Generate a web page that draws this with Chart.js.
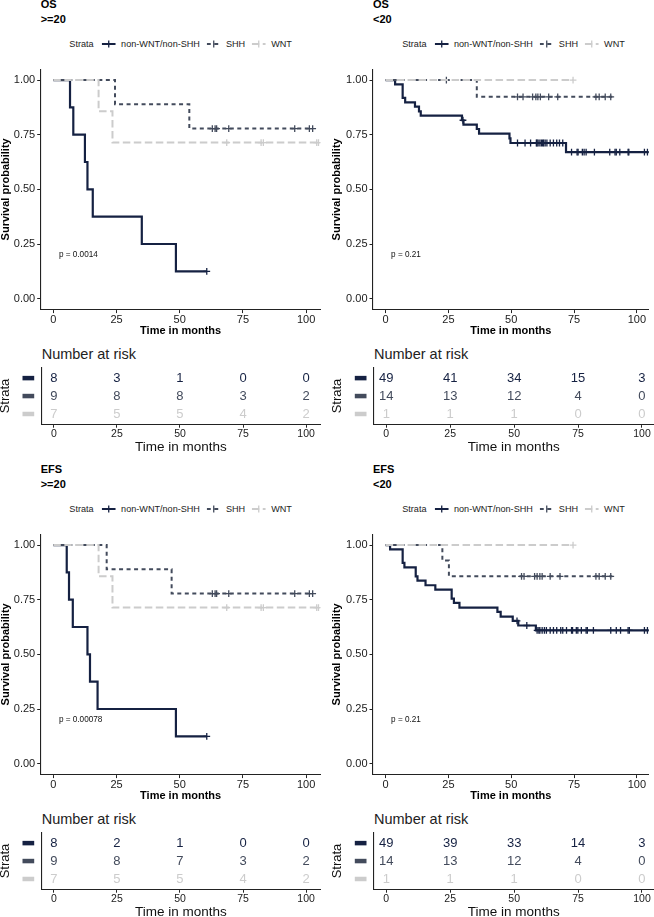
<!DOCTYPE html>
<html>
<head>
<meta charset="utf-8">
<script src="https://cdn.jsdelivr.net/npm/chart.js@4.4.1/dist/chart.umd.min.js"></script>
<style>
body { margin: 0; background: #fff; width: 654px; height: 917px; position: relative; overflow: hidden; font-family: "Liberation Sans", Arial, sans-serif; }
canvas { position: absolute; }
.ttl { position: absolute; font-weight: bold; font-size: 11px; line-height: 11px; color: #000; }
.leg { position: absolute; display: flex; align-items: center; font-size: 9.1px; line-height: 12px; height: 12px; color: #222; transform: translateX(-50%); white-space: nowrap; }
.nrisk { position: absolute; font-size: 14.5px; line-height: 15px; color: #222; }
</style>
</head>
<body>
<script>
const xTicks = [0, 25, 50, 75, 100];
const yTicks = [0, 0.25, 0.5, 0.75, 1];
const strata = ['non-WNT/non-SHH', 'SHH', 'WNT'];

// OS, >=20
const osHiNonTime = [0, 6.6, 7.9, 12.5, 13.5, 15.6, 35.0, 48.5, 60.7];
const osHiNonSurv = [1, 0.875, 0.75, 0.625, 0.5, 0.375, 0.25, 0.125, 0.125];
const osHiNonCens = [60.7];
const osHiShhTime = [0, 24.4, 53.8, 102.6];
const osHiShhSurv = [1, 0.889, 0.778, 0.778];
const osHiShhCens = [62.9, 64.0, 64.6, 69.4, 95.5, 101.3, 102.6];
const osHiWntTime = [0, 17.9, 23.4, 104.9];
const osHiWntSurv = [1, 0.857, 0.714, 0.714];
const osHiWntCens = [68.6, 82.2, 83.1, 104.2, 104.9];
const osHiRiskNon = [8, 3, 1, 0, 0];
const osHiRiskShh = [9, 8, 8, 3, 2];
const osHiRiskWnt = [7, 5, 5, 4, 2];

// OS, <20
const osLoNonTime = [0, 3.8, 6.8, 7.8, 11.7, 13.3, 14.0, 30.4, 31.0, 36.3, 37.2, 49.3, 49.7, 71.8, 106];
const osLoNonSurv = [1, 0.980, 0.918, 0.898, 0.878, 0.857, 0.837, 0.816, 0.796, 0.776, 0.755, 0.733, 0.712, 0.670, 0.670];
const osLoNonCens = [30.8, 52.5, 55.5, 57.7, 60.0, 60.3, 60.7, 61.4, 62.0, 62.5, 62.9, 63.5, 64.2, 65.5, 66.8, 68.1, 69.2, 70.5,
  74.0, 76.2, 76.6, 78.3, 79.0, 79.8, 83.1, 89.2, 91.3, 91.8, 93.2, 96.5, 96.8, 103.0, 104.2];
const osLoShhTime = [0, 36.3, 90.2];
const osLoShhSurv = [1, 0.923, 0.923];
const osLoShhCens = [24.2, 52.5, 54.7, 58.5, 59.8, 60.6, 61.6, 64.9, 68.5, 83.7, 85.0, 87.4, 89.6];
const osLoWntTime = [0, 74.6];
const osLoWntSurv = [1, 1];
const osLoWntCens = [74.6];
const osLoRiskNon = [49, 41, 34, 15, 3];
const osLoRiskShh = [14, 13, 12, 4, 0];
const osLoRiskWnt = [1, 1, 1, 0, 0];

// EFS, >=20
const efsHiNonTime = [0, 5.3, 6.2, 7.7, 13.5, 14.5, 17.5, 48.5, 60.7];
const efsHiNonSurv = [1, 0.875, 0.75, 0.625, 0.5, 0.375, 0.25, 0.125, 0.125];
const efsHiNonCens = [60.7];
const efsHiShhTime = [0, 21.1, 46.8, 102.6];
const efsHiShhSurv = [1, 0.889, 0.778, 0.778];
const efsHiShhCens = [62.9, 64.0, 64.6, 69.4, 95.5, 101.3, 102.6];
const efsHiWntTime = [0, 17.9, 23.4, 104.9];
const efsHiWntSurv = [1, 0.857, 0.714, 0.714];
const efsHiWntCens = [68.6, 82.2, 83.1, 104.2, 104.9];
const efsHiRiskNon = [8, 2, 1, 0, 0];
const efsHiRiskShh = [9, 8, 7, 3, 2];
const efsHiRiskWnt = [7, 5, 5, 4, 2];

// EFS, <20
const efsLoNonTime = [0, 1.8, 6.8, 7.5, 12.0, 12.7, 15.9, 19.8, 26.3, 27.2, 29.4, 44.5, 45.8, 50.6, 52.8, 59.8, 106];
const efsLoNonSurv = [1, 0.980, 0.918, 0.898, 0.857, 0.837, 0.816, 0.796, 0.755, 0.735, 0.714, 0.694, 0.673, 0.653, 0.632, 0.610, 0.610];
const efsLoNonCens = [52.3, 56.2, 60.3, 61.0, 61.4, 62.3, 63.2, 64.0, 65.5, 66.8, 68.1, 69.7, 70.5, 72.0, 74.0, 74.4,
  75.9, 76.5, 77.9, 79.8, 80.3, 82.7, 89.6, 91.8, 93.5, 96.5, 97.0, 103.0, 104.2];
const efsLoShhTime = [0, 22.6, 25.2, 90.2];
const efsLoShhSurv = [1, 0.929, 0.857, 0.857];
const efsLoShhCens = [54.1, 55.1, 59.3, 60.3, 61.4, 62.3, 65.5, 69.4, 83.7, 85.0, 87.4, 89.6];
const efsLoWntTime = [0, 74.6];
const efsLoWntSurv = [1, 1];
const efsLoWntCens = [74.6];
const efsLoRiskNon = [49, 39, 33, 14, 3];
const efsLoRiskShh = [14, 13, 12, 4, 0];
const efsLoRiskWnt = [1, 1, 1, 0, 0];

const pvalPos = [2.2, 0.2];

const family = '"Liberation Sans", Arial, sans-serif';
const colors = ['#152142', '#434b5c', '#cccccc'];
const widths = [2.2, 2, 2];
const dashes = [[], [4, 3.5], [7.5, 3.5]];
const axisColor = '#222';

const panels = [
  { title: 'OS', sub: '>=20', pval: 'p = 0.0014', col: 0, row: 0,
    curves: [[osHiNonTime, osHiNonSurv, osHiNonCens], [osHiShhTime, osHiShhSurv, osHiShhCens], [osHiWntTime, osHiWntSurv, osHiWntCens]],
    risk: [osHiRiskNon, osHiRiskShh, osHiRiskWnt] },
  { title: 'OS', sub: '<20', pval: 'p = 0.21', col: 1, row: 0,
    curves: [[osLoNonTime, osLoNonSurv, osLoNonCens], [osLoShhTime, osLoShhSurv, osLoShhCens], [osLoWntTime, osLoWntSurv, osLoWntCens]],
    risk: [osLoRiskNon, osLoRiskShh, osLoRiskWnt] },
  { title: 'EFS', sub: '>=20', pval: 'p = 0.00078', col: 0, row: 1,
    curves: [[efsHiNonTime, efsHiNonSurv, efsHiNonCens], [efsHiShhTime, efsHiShhSurv, efsHiShhCens], [efsHiWntTime, efsHiWntSurv, efsHiWntCens]],
    risk: [efsHiRiskNon, efsHiRiskShh, efsHiRiskWnt] },
  { title: 'EFS', sub: '<20', pval: 'p = 0.21', col: 1, row: 1,
    curves: [[efsLoNonTime, efsLoNonSurv, efsLoNonCens], [efsLoShhTime, efsLoShhSurv, efsLoShhCens], [efsLoWntTime, efsLoWntSurv, efsLoWntCens]],
    risk: [efsLoRiskNon, efsLoRiskShh, efsLoRiskWnt] }
];

// panel geometry (left / right column)
const cols = [
  { left: 0, plotL: 40.7, plotR: 320.5, xMax: 105.7, ytPad: 0, stPad: -1.5 },
  { left: 327, plotL: 373, plotR: 654, xMax: 104.7, ytPad: 4.5, stPad: 4 }
];
const rowDy = 465;

function survAt(time, surv, t) {
  let s = surv[0];
  for (let i = 0; i < time.length; i++) if (time[i] <= t) s = surv[i];
  return s;
}

function addCanvas(x, y, w, h) {
  const c = document.createElement('canvas');
  c.width = w; c.height = h;
  c.style.left = x + 'px'; c.style.top = y + 'px';
  document.body.appendChild(c);
  return c;
}

function addDiv(cls, x, y, html) {
  const d = document.createElement('div');
  d.className = cls;
  d.style.left = x + 'px'; d.style.top = y + 'px';
  d.innerHTML = html;
  document.body.appendChild(d);
  return d;
}

function legendHtml() {
  let h = '<span style="margin-right:8px">Strata</span>';
  strata.forEach((name, i) => {
    h += `<svg width="14" height="10" style="margin-right:5.5px">` +
      `<line x1="0" y1="5" x2="14" y2="5" stroke="${colors[i]}" stroke-width="${widths[i]}" stroke-dasharray="${dashes[i].join(' ')}"/>` +
      `<line x1="7" y1="1.5" x2="7" y2="8.5" stroke="${colors[i]}" stroke-width="1.3"/></svg>` +
      `<span style="margin-right:${i < 2 ? 6.5 : 0}px">${name}</span>`;
  });
  return h;
}

const pvalPlugin = {
  id: 'pval',
  afterDatasetsDraw(chart, args, opts) {
    const ctx = chart.ctx;
    ctx.save();
    ctx.font = '8.2px ' + family;
    ctx.fillStyle = '#111';
    ctx.textAlign = 'left';
    ctx.textBaseline = 'middle';
    ctx.fillText(opts.text, chart.scales.x.getPixelForValue(pvalPos[0]), chart.scales.y.getPixelForValue(pvalPos[1]));
    ctx.restore();
  }
};

const riskPlugin = {
  id: 'riskText',
  afterDatasetsDraw(chart) {
    const ctx = chart.ctx;
    ctx.save();
    ctx.font = '13px ' + family;
    ctx.textAlign = 'center';
    ctx.textBaseline = 'middle';
    chart.data.datasets.forEach((ds, i) => {
      const meta = chart.getDatasetMeta(i);
      ctx.fillStyle = ds.textColor;
      meta.data.forEach((pt, j) => ctx.fillText(String(ds.counts[j]), pt.x, pt.y));
      // strata key next to the axis
      const y = chart.scales.y.getPixelForValue(ds.data[0].y);
      ctx.fillRect(chart.chartArea.left - 18.7, y - 2.2, 11.7, 4.5);
    });
    ctx.restore();
  }
};

function kmChart(p) {
  const g = cols[p.col];
  const top = 60 + p.row * rowDy;
  const cv = addCanvas(g.left, top, 327, 280);
  const datasets = [];
  p.curves.forEach((c, i) => {
    const [time, surv, cens] = c;
    datasets.push({
      data: time.map((t, j) => ({ x: t, y: surv[j] })),
      borderColor: colors[i], borderWidth: widths[i], borderDash: dashes[i],
      stepped: 'before', pointRadius: 0, fill: false, order: 2 - i
    });
    datasets.push({
      data: cens.map(t => ({ x: t, y: survAt(time, surv, t) })),
      showLine: false, pointStyle: 'cross', pointRadius: 3.4,
      borderColor: colors[i], borderWidth: 1.3, order: 2 - i
    });
  });
  new Chart(cv, {
    type: 'line',
    data: { datasets },
    options: {
      responsive: false, animation: false, devicePixelRatio: 1,
      layout: { padding: { top: 9.1, right: g.left + 327 - g.plotR, left: 0, bottom: 0 } },
      plugins: { legend: { display: false }, tooltip: { enabled: false }, pval: { text: p.pval } },
      scales: {
        x: {
          type: 'linear', min: -5, max: g.xMax,
          afterBuildTicks: s => { s.ticks = xTicks.map(v => ({ value: v })); },
          afterFit: s => { s.height = 30.4; },
          ticks: { font: { size: 11, family }, color: '#1a1a1a', padding: 0, maxRotation: 0, autoSkip: false },
          grid: { drawOnChartArea: false, tickLength: 3.5, color: axisColor },
          border: { color: axisColor, width: 1.1 },
          title: { display: true, text: 'Time in months', color: '#000',
            font: { size: 11, weight: 'bold', family, lineHeight: 1 }, padding: { top: 0, bottom: 3.5 } }
        },
        y: {
          type: 'linear', min: -0.05, max: 1.05,
          afterBuildTicks: s => { s.ticks = yTicks.map(v => ({ value: v })); },
          afterFit: s => { s.width = g.plotL - g.left; },
          ticks: { font: { size: 11, family }, color: '#1a1a1a', padding: 2, callback: v => v.toFixed(2) },
          grid: { drawOnChartArea: false, tickLength: 3.5, color: axisColor },
          border: { color: axisColor, width: 1.1 },
          title: { display: true, text: 'Survival probability', color: '#000',
            font: { size: 11, weight: 'bold', family, lineHeight: 1 }, padding: { top: g.ytPad, bottom: 0 } }
        }
      }
    },
    plugins: [pvalPlugin]
  });
}

function riskChart(p) {
  const g = cols[p.col];
  const top = 358 + p.row * rowDy;
  const cv = addCanvas(g.left, top, 327, 100);
  const datasets = p.risk.map((row, i) => ({
    data: xTicks.map(x => ({ x, y: 2 - i })),
    counts: row, textColor: colors[i], pointRadius: 0
  }));
  new Chart(cv, {
    type: 'scatter',
    data: { datasets },
    options: {
      responsive: false, animation: false, devicePixelRatio: 1,
      layout: { padding: { top: 9.3, right: g.left + 327 - g.plotR, left: 0, bottom: 0 } },
      plugins: { legend: { display: false }, tooltip: { enabled: false } },
      scales: {
        x: {
          type: 'linear', min: -5, max: g.xMax,
          afterBuildTicks: s => { s.ticks = xTicks.map(v => ({ value: v })); },
          afterFit: s => { s.height = 33.3; },
          ticks: { font: { size: 10.5, family }, color: '#1a1a1a', padding: 0, maxRotation: 0, autoSkip: false },
          grid: { drawOnChartArea: false, tickLength: 3, color: axisColor },
          border: { color: axisColor, width: 1.1 },
          title: { display: true, text: 'Time in months', color: '#111',
            font: { size: 13.5, family, lineHeight: 1 }, padding: { top: 0, bottom: 4 } }
        },
        y: {
          type: 'linear', min: -0.6, max: 2.6,
          afterBuildTicks: s => { s.ticks = [0, 1, 2].map(v => ({ value: v })); },
          afterFit: s => { s.width = g.plotL - g.left + 0.5; },
          ticks: { display: false },
          grid: { drawOnChartArea: false, drawTicks: false },
          border: { color: axisColor, width: 1.1 },
          title: { display: true, text: 'Strata', color: '#111',
            font: { size: 13, family, lineHeight: 1 }, padding: { top: g.stPad, bottom: 0 } }
        }
      }
    },
    plugins: [riskPlugin]
  });
}

panels.forEach(p => {
  const g = cols[p.col];
  const dy = p.row * rowDy;
  addDiv('ttl', g.plotL, -1.5 + dy, p.title);
  addDiv('ttl', g.plotL, 13.5 + dy, p.sub.replace('<', '&lt;'));
  addDiv('leg', (g.plotL + g.plotR) / 2, 38.3 + dy, legendHtml());
  addDiv('nrisk', g.plotL + 1, 346.8 + dy, 'Number at risk');
  kmChart(p);
  riskChart(p);
});
</script>
</body>
</html>
